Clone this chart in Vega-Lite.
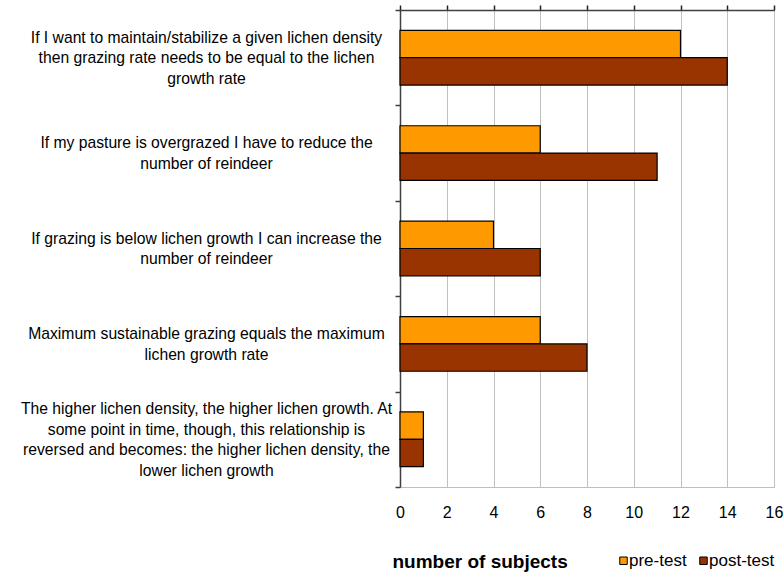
{
  "$schema": "https://vega.github.io/schema/vega-lite/v6.json",
  "width": 374,
  "height": 477,
  "autosize": {"type": "none"},
  "padding": {"left": 400, "top": 10, "right": 10, "bottom": 88},
  "config": {
    "font": "Liberation Sans",
    "view": {"stroke": "#BDBDBD", "strokeWidth": 1}
  },
  "data": {
    "values": [
      {"statement": "If I want to maintain/stabilize a given lichen density\nthen grazing rate needs to be equal to the lichen\ngrowth rate", "test": "pre-test", "subjects": 12},
      {"statement": "If I want to maintain/stabilize a given lichen density\nthen grazing rate needs to be equal to the lichen\ngrowth rate", "test": "post-test", "subjects": 14},
      {"statement": "If my pasture is overgrazed I have to reduce the\nnumber of reindeer", "test": "pre-test", "subjects": 6},
      {"statement": "If my pasture is overgrazed I have to reduce the\nnumber of reindeer", "test": "post-test", "subjects": 11},
      {"statement": "If grazing is below lichen growth I can increase the\nnumber of reindeer", "test": "pre-test", "subjects": 4},
      {"statement": "If grazing is below lichen growth I can increase the\nnumber of reindeer", "test": "post-test", "subjects": 6},
      {"statement": "Maximum sustainable grazing equals the maximum\nlichen growth rate", "test": "pre-test", "subjects": 6},
      {"statement": "Maximum sustainable grazing equals the maximum\nlichen growth rate", "test": "post-test", "subjects": 8},
      {"statement": "The higher lichen density, the higher lichen growth. At\nsome point in time, though, this relationship is\nreversed and becomes: the higher lichen density, the\nlower lichen growth", "test": "pre-test", "subjects": 1},
      {"statement": "The higher lichen density, the higher lichen growth. At\nsome point in time, though, this relationship is\nreversed and becomes: the higher lichen density, the\nlower lichen growth", "test": "post-test", "subjects": 1}
    ]
  },
  "layer": [
    {
      "mark": {"type": "bar", "stroke": "#000000", "strokeWidth": 1.2},
      "encoding": {
        "y": {
          "field": "statement",
          "type": "nominal",
          "sort": null,
          "scale": {"paddingInner": 0, "paddingOuter": 0},
          "axis": {
            "title": null,
            "tickBand": "extent",
            "domainColor": "#404040",
            "domainWidth": 1.5,
            "tickColor": "#404040",
            "tickWidth": 1.5,
            "tickSize": 5,
            "labelExpr": "split(datum.label, '\\n')",
            "labelAlign": "center",
            "labelBaseline": "middle",
            "labelPadding": 189,
            "labelLimit": 0,
            "labelFontSize": 15.7,
            "labelLineHeight": 20.5,
            "labelColor": "#000000",
            "labelOffset": {"expr": "-(length(split(datum.label, '\\n')) - 1) * 10.25"},
            "grid": false
          }
        },
        "yOffset": {
          "field": "test",
          "type": "nominal",
          "sort": ["pre-test", "post-test"],
          "scale": {"paddingInner": 0, "paddingOuter": 0.744}
        },
        "x": {
          "field": "subjects",
          "type": "quantitative",
          "scale": {"domain": [0, 16], "nice": false},
          "axis": {
            "orient": "bottom",
            "values": [0, 2, 4, 6, 8, 10, 12, 14, 16],
            "domain": false,
            "ticks": false,
            "grid": true,
            "gridColor": "#C0C0C0",
            "gridWidth": 1,
            "labelFontSize": 16,
            "labelColor": "#000000",
            "labelPadding": 17,
            "labelFlush": false,
            "title": "number of subjects",
            "titleFontSize": 19,
            "titleFontWeight": "bold",
            "titleColor": "#000000",
            "titleAnchor": "start",
            "titleAlign": "left",
            "titleBaseline": "alphabetic",
            "titleX": -8,
            "titleY": 80
          }
        },
        "color": {
          "field": "test",
          "type": "nominal",
          "scale": {"domain": ["pre-test", "post-test"], "range": ["#FF9900", "#993300"]},
          "legend": {
            "title": null,
            "orient": "none",
            "direction": "horizontal",
            "legendX": 215,
            "legendY": 542,
            "symbolType": "square",
            "symbolSize": 56,
            "symbolStrokeColor": "#000000",
            "symbolStrokeWidth": 1,
            "symbolOpacity": 1,
            "labelFontSize": 17,
            "labelColor": "#000000",
            "labelOffset": -3,
            "columnPadding": 8
          }
        }
      }
    },
    {
      "mark": {"type": "rule", "color": "#404040", "strokeWidth": 1.5},
      "encoding": {
        "x": {
          "field": "subjects",
          "type": "quantitative",
          "aggregate": "min",
          "axis": {
            "orient": "top",
            "values": [0, 2, 4, 6, 8, 10, 12, 14, 16],
            "labels": false,
            "grid": false,
            "domainColor": "#404040",
            "domainWidth": 1.5,
            "tickColor": "#202020",
            "tickWidth": 1.5,
            "tickSize": 5,
            "title": null
          }
        },
        "opacity": {"value": 0}
      }
    }
  ],
  "resolve": {"axis": {"x": "independent"}}
}
